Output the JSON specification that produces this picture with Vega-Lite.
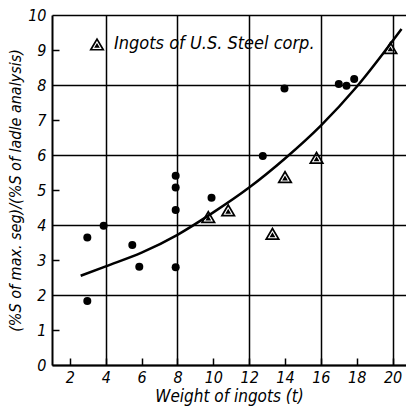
{
  "$schema": "https://vega.github.io/schema/vega-lite/v6.json",
  "width": 354,
  "height": 350,
  "autosize": {"type": "none"},
  "padding": {"left": 52, "top": 15, "right": 0, "bottom": 43},
  "background": "white",
  "config": {"view": {"stroke": null}, "font": "DejaVu Sans Condensed, DejaVu Sans, sans-serif"},
  "datasets": {
    "fit": [
      {"weight": 2.6, "ratio": 2.55},
      {"weight": 4, "ratio": 2.82},
      {"weight": 6, "ratio": 3.21},
      {"weight": 8, "ratio": 3.72},
      {"weight": 10, "ratio": 4.36},
      {"weight": 12, "ratio": 5.07},
      {"weight": 14, "ratio": 5.9},
      {"weight": 16, "ratio": 6.84},
      {"weight": 18, "ratio": 7.95},
      {"weight": 20.5, "ratio": 9.6}
    ],
    "circles": [
      {"weight": 2.97, "ratio": 3.64},
      {"weight": 2.97, "ratio": 1.83},
      {"weight": 3.88, "ratio": 3.98},
      {"weight": 5.48, "ratio": 3.43},
      {"weight": 5.87, "ratio": 2.81},
      {"weight": 7.9, "ratio": 5.41},
      {"weight": 7.9, "ratio": 5.07},
      {"weight": 7.9, "ratio": 4.43},
      {"weight": 7.9, "ratio": 2.79},
      {"weight": 9.9, "ratio": 4.78},
      {"weight": 12.76, "ratio": 5.97},
      {"weight": 13.97, "ratio": 7.9},
      {"weight": 17.0, "ratio": 8.03},
      {"weight": 17.43, "ratio": 7.98},
      {"weight": 17.86, "ratio": 8.17}
    ],
    "triangles": [
      {"weight": 9.72, "ratio": 4.24, "source": "Ingots of  U.S. Steel corp."},
      {"weight": 10.83, "ratio": 4.43, "source": "Ingots of  U.S. Steel corp."},
      {"weight": 13.3, "ratio": 3.76, "source": "Ingots of  U.S. Steel corp."},
      {"weight": 14.0, "ratio": 5.38, "source": "Ingots of  U.S. Steel corp."},
      {"weight": 15.76, "ratio": 5.93, "source": "Ingots of  U.S. Steel corp."},
      {"weight": 19.88, "ratio": 9.07, "source": "Ingots of  U.S. Steel corp."}
    ]
  },
  "encoding": {
    "x": {
      "field": "weight",
      "type": "quantitative",
      "scale": {"domain": [1, 20.75], "nice": false, "zero": false},
      "axis": {
        "values": [2, 4, 6, 8, 10, 12, 14, 16, 18, 20],
        "title": "Weight of ingots (t)",
        "grid": true,
        "gridColor": "black",
        "gridWidth": 1.5,
        "gridOpacity": {"condition": {"test": "datum.value % 4 === 0", "value": 1}, "value": 0},
        "domainColor": "black",
        "domainWidth": 2,
        "tickColor": "black",
        "tickWidth": 1.5,
        "tickSize": -7,
        "labelPadding": 11,
        "labelFontSize": 16,
        "labelFontStyle": "italic",
        "labelColor": "black",
        "titleFontSize": 17,
        "titleFontStyle": "italic",
        "titleFontWeight": "normal",
        "titleColor": "black",
        "titlePadding": 3
      }
    },
    "y": {
      "field": "ratio",
      "type": "quantitative",
      "scale": {"domain": [0, 10], "nice": false, "zero": true},
      "axis": {
        "values": [0, 1, 2, 3, 4, 5, 6, 7, 8, 9, 10],
        "title": "(%S of max. seg)/(%S of ladle analysis)",
        "grid": true,
        "gridColor": "black",
        "gridWidth": 1.5,
        "gridOpacity": {"condition": {"test": "datum.value % 2 === 0", "value": 1}, "value": 0},
        "domainColor": "black",
        "domainWidth": 2,
        "tickColor": "black",
        "tickWidth": 1.5,
        "tickSize": -7,
        "tickOpacity": {"condition": {"test": "datum.value % 2 === 1", "value": 1}, "value": 0},
        "labelPadding": 13,
        "labelFontSize": 16,
        "labelFontStyle": "italic",
        "labelColor": "black",
        "titleFontSize": 16,
        "titleFontStyle": "italic",
        "titleFontWeight": "normal",
        "titleColor": "black",
        "titlePadding": 4
      }
    }
  },
  "layer": [
    {
      "data": {"name": "fit"},
      "mark": {"type": "line", "color": "black", "strokeWidth": 2.5, "interpolate": "monotone"}
    },
    {
      "data": {"name": "circles"},
      "mark": {"type": "point", "shape": "circle", "filled": true, "color": "black", "size": 64, "opacity": 1}
    },
    {
      "data": {"name": "triangles"},
      "mark": {"type": "point", "filled": true, "color": "black", "size": 240, "opacity": 1},
      "encoding": {
        "shape": {
          "field": "source",
          "type": "nominal",
          "scale": {"range": ["M0,-0.85L1,0.85L-1,0.85ZM0,-0.416L-0.615,0.63L0.615,0.63ZM0,-0.139L0.37,0.49L-0.37,0.49Z"]},
          "legend": {
            "title": null,
            "orient": "none",
            "legendX": 36,
            "legendY": 20,
            "symbolSize": 240,
            "symbolFillColor": "black",
            "symbolStrokeWidth": 0,
            "symbolOpacity": 1,
            "labelFontSize": 18,
            "labelFontStyle": "italic",
            "labelColor": "black",
            "labelOffset": 8,
            "labelLimit": 400
          }
        }
      }
    }
  ]
}
